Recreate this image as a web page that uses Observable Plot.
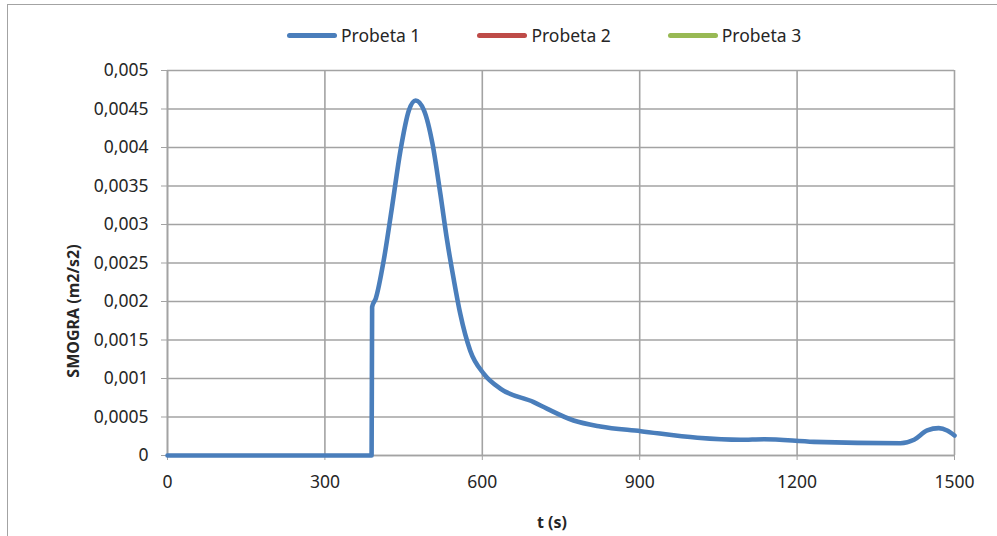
<!DOCTYPE html>
<html>
<head>
<meta charset="utf-8">
<script src="https://cdn.jsdelivr.net/npm/d3@7"></script>
<script src="https://cdn.jsdelivr.net/npm/@observablehq/plot@0.6"></script>
<style>
  html, body { margin: 0; padding: 0; background: #fff; }
  #wrap { position: relative; width: 997px; height: 536px; overflow: hidden; font-family: "Noto Sans", sans-serif; }
  #frame { position: absolute; left: 7px; top: 4px; width: 1010px; height: 600px; border: 1.5px solid #a3a3a3; box-sizing: border-box; }
  #legend { position: absolute; left: 287px; top: 22px; height: 26px; display: flex; align-items: center; gap: 57px; font-size: 17.5px; color: #262626; }
  .item { display: flex; align-items: center; gap: 4px; }
  .sw { width: 50px; height: 5px; border-radius: 3px; }
  #chart { position: absolute; left: 0; top: 50px; }
  #chart g[aria-label="y-axis label"] text, #chart g[aria-label="x-axis label"] text { font-weight: bold; font-size: 16px; }
</style>
</head>
<body>
<div id="wrap">
  <div id="frame"></div>
  <div id="legend"></div>
  <div id="chart"></div>
</div>
<script>
// Series names and colours
const seriesNames = ["Probeta 1", "Probeta 2", "Probeta 3"];
const seriesColors = ["#4a7ebb", "#be4b48", "#98b954"];

// Probeta 1: time (s)
const tValues = [0, 100, 200, 300, 389, 390, 397, 412, 428, 444, 460, 473, 489, 505, 520, 533, 546, 558, 577, 603, 635, 698, 724, 774, 825, 902, 1010, 1092, 1137, 1232, 1397, 1423, 1448, 1470, 1486, 1500];
// Probeta 1: SMOGRA (m2/s2)
const smograValues = [0, 0, 0, 0, 0, 0.00193, 0.00204, 0.00253, 0.00323, 0.00396, 0.00448, 0.00461, 0.00448, 0.00405, 0.0034, 0.00279, 0.00227, 0.00184, 0.00136, 0.00106, 0.000866, 0.000693, 0.000606, 0.000455, 0.000377, 0.000316, 0.00023, 0.000204, 0.000212, 0.000177, 0.00016, 0.000204, 0.000325, 0.000355, 0.000325, 0.00026];

// Axis ticks
const xTicks = [0, 300, 600, 900, 1200, 1500];
const yTicks = [0, 0.0005, 0.001, 0.0015, 0.002, 0.0025, 0.003, 0.0035, 0.004, 0.0045, 0.005];

const data = tValues.map((t, i) => ({t, v: smograValues[i], s: seriesNames[0]}));

// Legend
const legend = document.getElementById("legend");
seriesNames.forEach((n, i) => {
  const it = document.createElement("div");
  it.className = "item";
  it.innerHTML = `<span class="sw" style="background:${seriesColors[i]}"></span><span>${n}</span>`;
  legend.appendChild(it);
});

const grid = "#a3a3a3";
const fmt = d => String(d).replace(".", ",");

const plot = Plot.plot({
  width: 997,
  height: 486,
  marginTop: 20,
  marginBottom: 81,
  marginLeft: 167,
  marginRight: 43,
  style: { fontFamily: "Noto Sans, sans-serif", fontSize: "17.5px", color: "#262626", background: "transparent" },
  x: { domain: [0, 1500] },
  y: { domain: [0, 0.005] },
  color: { domain: seriesNames, range: seriesColors },
  marks: [
    Plot.gridX(xTicks, { stroke: grid, strokeOpacity: 1, strokeWidth: 1.6 }),
    Plot.gridY(yTicks, { stroke: grid, strokeOpacity: 1, strokeWidth: 1.6 }),
    Plot.ruleX([0], { stroke: grid, strokeWidth: 1.6 }),
    Plot.ruleY([0], { stroke: grid, strokeWidth: 1.6 }),
    Plot.axisY({ ticks: yTicks, tickFormat: fmt, tickSize: 6, tickPadding: 13, stroke: grid,
      label: "SMOGRA (m2/s2)", labelAnchor: "center", labelArrow: "none", labelOffset: 100, fontSize: 17.5 }),
    Plot.axisX({ ticks: xTicks, tickFormat: d => String(d), tickSize: 5, tickPadding: 15, stroke: grid,
      label: "t (s)", labelAnchor: "center", labelArrow: "none", labelOffset: 72, fontSize: 17.5 }),
    Plot.line(data, { x: "t", y: "v", stroke: "s", strokeWidth: 4.6, curve: "monotone-x", strokeLinejoin: "round", strokeLinecap: "round" })
  ]
});
// Shift axis titles to match the reference's placement
d3.select(plot).select('g[aria-label="y-axis label"] text').attr("dx", -48);
d3.select(plot).select('g[aria-label="x-axis label"] text').attr("dx", -9);
document.getElementById("chart").appendChild(plot);
</script>
</body>
</html>
